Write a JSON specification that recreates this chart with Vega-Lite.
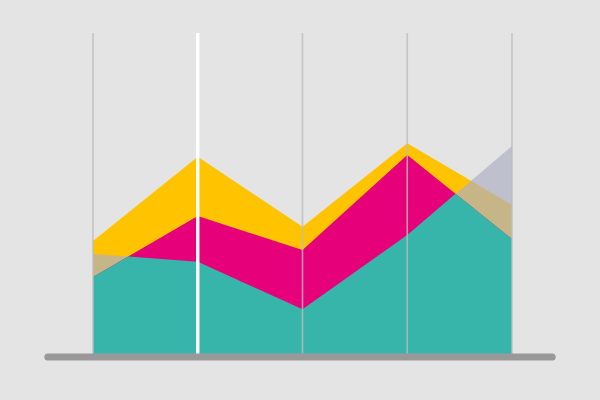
{
  "$schema": "https://vega.github.io/schema/vega-lite/v6.json",
  "width": 600,
  "height": 400,
  "autosize": {"type": "fit", "contains": "padding"},
  "padding": 0,
  "background": "#e4e4e4",
  "config": {"view": {"stroke": null}},
  "datasets": {
    "yellow": [
      {"x": 0, "v": 36.25}, {"x": 1, "v": 62.59}, {"x": 2, "v": 40.72}, {"x": 3, "v": 66.78}, {"x": 4, "v": 47.5}
    ],
    "grey": [
      {"x": 0, "v": 32.19}, {"x": 1, "v": 29.78}, {"x": 2, "v": 14.91}, {"x": 3, "v": 38.13}, {"x": 4, "v": 65.94}
    ],
    "magenta": [
      {"x": 0, "v": 25.0}, {"x": 1, "v": 44.06}, {"x": 2, "v": 33.44}, {"x": 3, "v": 63.13}, {"x": 4, "v": 36.88}
    ],
    "teal": [
      {"x": 0, "v": 25.0}, {"x": 0.337, "v": 31.4}, {"x": 1, "v": 29.78}, {"x": 2, "v": 14.91}, {"x": 3, "v": 38.13}, {"x": 3.461, "v": 51.0}, {"x": 4, "v": 36.88}
    ],
    "grid": [
      {"x": 0, "selected": "no"}, {"x": 1, "selected": "yes"}, {"x": 2, "selected": "no"}, {"x": 3, "selected": "no"}, {"x": 4, "selected": "no"}
    ]
  },
  "layer": [
    {
      "data": {"name": "yellow"},
      "mark": {"type": "area", "color": "#ffc300"},
      "encoding": {
        "x": {"field": "x", "type": "quantitative", "scale": {"domain": [-0.8878, 4.8401], "nice": false, "zero": false}, "axis": null},
        "y": {"field": "v", "type": "quantitative", "scale": {"domain": [-13.4375, 111.5625], "nice": false, "zero": false}, "axis": null},
        "y2": {"datum": 0}
      }
    },
    {
      "data": {"name": "grey"},
      "mark": {"type": "area", "color": "#acb0c4", "opacity": 0.69},
      "encoding": {
        "x": {"field": "x", "type": "quantitative"},
        "y": {"field": "v", "type": "quantitative"},
        "y2": {"datum": 0}
      }
    },
    {
      "data": {"name": "magenta"},
      "mark": {"type": "area", "color": "#e6007a"},
      "encoding": {
        "x": {"field": "x", "type": "quantitative"},
        "y": {"field": "v", "type": "quantitative"},
        "y2": {"datum": 0}
      }
    },
    {
      "data": {"name": "teal"},
      "mark": {"type": "area", "color": "#38b5ab"},
      "encoding": {
        "x": {"field": "x", "type": "quantitative"},
        "y": {"field": "v", "type": "quantitative"},
        "y2": {"datum": 0}
      }
    },
    {
      "data": {"name": "grid"},
      "transform": [{"filter": "datum.selected === 'no'"}],
      "mark": {"type": "rule", "color": "#bdbdbd", "strokeWidth": 1.6, "opacity": 0.8},
      "encoding": {
        "x": {"field": "x", "type": "quantitative"},
        "y": {"datum": 0},
        "y2": {"datum": 101.25}
      }
    },
    {
      "data": {"name": "grid"},
      "transform": [{"filter": "datum.selected === 'yes'"}],
      "mark": {"type": "rule", "color": "#ffffff", "strokeWidth": 3.4},
      "encoding": {
        "x": {"field": "x", "type": "quantitative"},
        "y": {"datum": 0},
        "y2": {"datum": 101.25}
      }
    },
    {
      "data": {"values": [{}]},
      "mark": {"type": "rule", "color": "#999999", "strokeWidth": 7, "strokeCap": "round"},
      "encoding": {
        "x": {"datum": -0.4315},
        "x2": {"datum": 4.384},
        "y": {"datum": 0}
      }
    }
  ]
}
